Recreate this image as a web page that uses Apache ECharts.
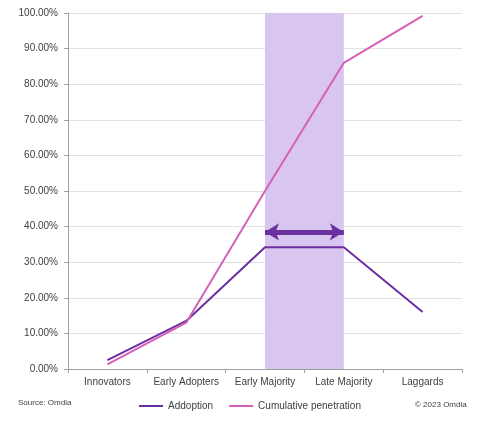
<!DOCTYPE html>
<html><head><meta charset="utf-8">
<script src="https://cdn.jsdelivr.net/npm/echarts@6/dist/echarts.min.js"></script>
<style>html,body{margin:0;padding:0;background:#fff}#c{width:500px;height:426px}</style>
</head><body><div id="c"></div>
<script>
const categories = ['Innovators','Early Adopters','Early Majority','Late Majority','Laggards'];
const adoption = [2.5, 13.5, 34.2, 34.2, 16];
const cumulative = [1.3, 13, 50, 86, 99.2];
const arrowLevel = 38.5;
const yTicks = [0,10,20,30,40,50,60,70,80,90,100];

const font = 'Liberation Sans';
const chart = echarts.init(document.getElementById('c'));
chart.setOption({
  animation:false,
  textStyle:{fontFamily:font},
  grid:{left:68,right:38,top:13,bottom:57},
  xAxis:{type:'category',data:categories,boundaryGap:true,
    axisLine:{lineStyle:{color:'#a0a0a0'}},
    axisTick:{show:true,length:4,interval:0,lineStyle:{color:'#a0a0a0'}},
    axisLabel:{color:'#404040',fontSize:10,margin:8,interval:0}},
  yAxis:{type:'value',min:yTicks[0],max:yTicks[yTicks.length-1],interval:10,
    axisLine:{show:true,lineStyle:{color:'#a0a0a0'}},
    axisTick:{show:true,length:4,lineStyle:{color:'#a0a0a0'}},
    splitLine:{lineStyle:{color:'#e2e2e2'}},
    axisLabel:{color:'#404040',fontSize:10,margin:10,formatter:v=>v.toFixed(2)+'%'}},
  legend:{bottom:10,left:'center',icon:'rect',itemWidth:24,itemHeight:2,itemGap:16,
    textStyle:{color:'#404040',fontSize:10,fontFamily:font},data:['Addoption','Cumulative penetration']},
  graphic:[
    {type:'text',left:18,top:399,style:{text:'Source: Omdia',fill:'#404040',font:'8px '+font}},
    {type:'text',left:415,top:401,style:{text:'© 2023 Omdia',fill:'#404040',font:'8px '+font}}
  ],
  series:[
    {name:'Addoption',type:'line',data:adoption,symbol:'none',
      lineStyle:{color:'#6b2fa0',width:2},itemStyle:{color:'#6b2fa0'},z:3,
      markArea:{silent:true,itemStyle:{color:'#d9c6f0'},
        data:[[{xAxis:'Early Majority',yAxis:0},{xAxis:'Late Majority',yAxis:100}]]},
      markLine:{silent:true,symbol:['arrow','arrow'],symbolSize:[13,14],
        lineStyle:{color:'#6b2fa0',width:5,type:'solid'},label:{show:false},
        data:[[{coord:['Early Majority',arrowLevel]},{coord:['Late Majority',arrowLevel]}]]}},
    {name:'Cumulative penetration',type:'line',data:cumulative,symbol:'none',
      lineStyle:{color:'#d660b8',width:2},itemStyle:{color:'#d660b8'},z:4}
  ]
});
</script></body></html>
